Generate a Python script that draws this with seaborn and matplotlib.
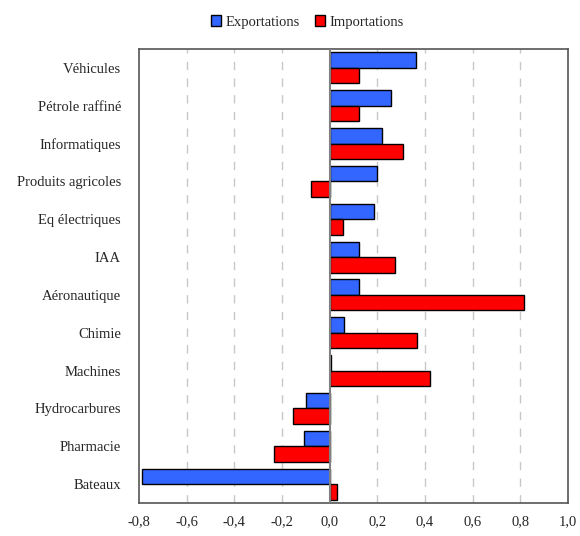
import pandas as pd
import seaborn as sns
import matplotlib.pyplot as plt
from matplotlib.patches import Patch

# categories (top to bottom) and values
categories = ["Véhicules", "Pétrole raffiné", "Informatiques", "Produits agricoles",
              "Eq électriques", "IAA", "Aéronautique", "Chimie", "Machines",
              "Hydrocarbures", "Pharmacie", "Bateaux"]
exportations = [0.363, 0.258, 0.221, 0.200, 0.186, 0.123, 0.123, 0.062, 0.007,
                -0.098, -0.108, -0.789]
importations = [0.123, 0.123, 0.310, -0.079, 0.057, 0.273, 0.814, 0.367, 0.423,
                -0.154, -0.232, 0.031]
series = ["Exportations", "Importations"]
colors = ["#3366FF", "#FF0000"]
xticks = [-0.8, -0.6, -0.4, -0.2, 0.0, 0.2, 0.4, 0.6, 0.8, 1.0]

df = pd.DataFrame({
    "cat": categories * 2,
    "val": exportations + importations,
    "serie": [series[0]] * len(categories) + [series[1]] * len(categories),
})

sns.set_style("white")
plt.rcParams["font.family"] = ["Liberation Serif", "DejaVu Serif"]

fig = plt.figure(figsize=(5.8, 5.36), dpi=100)
ax = fig.add_axes([0.2397, 0.0616, 0.979 - 0.2397, 0.9086 - 0.0616])

sns.barplot(data=df, y="cat", x="val", hue="serie", order=categories,
            hue_order=series, palette=colors, saturation=1, orient="h", width=0.82,
            edgecolor="black", linewidth=1, legend=False, ax=ax)

ax.set_xlim(-0.8, 1.0)
ax.set_ylim(len(categories) - 0.5, -0.5)
ax.set_xticks(xticks)
ax.set_xticklabels([f"{t:.1f}".replace(".", ",") for t in xticks], fontsize=10.5)
ax.tick_params(axis="x", direction="out", length=4, width=1, color="#444444", pad=5)
ax.tick_params(axis="y", length=0, pad=13, labelsize=10.5)
for t in xticks[1:-1]:
    if t != 0:
        ax.axvline(t, color="#c8c8c8", linestyle=(0, (6, 6)), linewidth=1, zorder=0)
ax.axvline(0, color="#808080", linewidth=1.5, zorder=3)
for s in ax.spines.values():
    s.set_color("#555555")
    s.set_linewidth(1.2)
ax.set_xlabel("")
ax.set_ylabel("")

handles = [Patch(facecolor=c, edgecolor="black", linewidth=1) for c in colors]
fig.legend(handles, series, loc="center", bbox_to_anchor=(0.53, 0.959), ncol=2,
           frameon=False, fontsize=10.5, handlelength=0.7, handleheight=0.7,
           handletextpad=0.3, columnspacing=1.0)

fig.savefig("out.png", dpi=100)
